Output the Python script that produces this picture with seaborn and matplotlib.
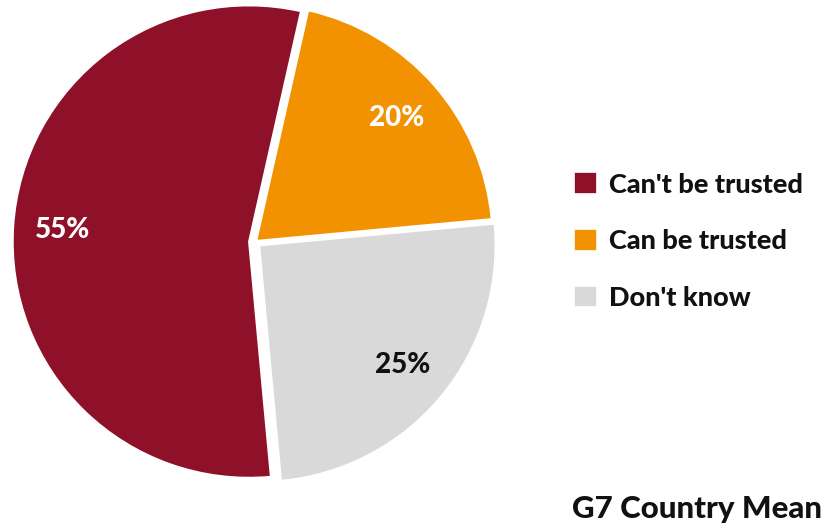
import matplotlib
matplotlib.use("Agg")
import matplotlib.pyplot as plt
import seaborn as sns

sns.set_theme(style="white")
plt.rcParams["font.family"] = ["Lato", "DejaVu Sans"]

categories = ["Can't be trusted", "Can be trusted", "Don't know"]
shares = [55, 20, 25]
colors = ["#8E1129", "#F39200", "#D9D9D9"]
label_colors = ["white", "white", "#111111"]
explode = [0.026, 0.008, 0.024]
title = "G7 Country Mean"

fig = plt.figure(figsize=(8.3, 5.3), dpi=100)
ax = fig.add_axes([0.0229, 0.0981, 0.5687, 0.8906])

wedges, _, autotexts = ax.pie(
    shares,
    colors=colors,
    explode=explode,
    startangle=275.3,
    counterclock=False,
    autopct=lambda p: f"{p:.0f}%",
    pctdistance=0.79,
    wedgeprops=dict(edgecolor="white", linewidth=1.2),
    textprops=dict(fontsize=20, fontweight="black"),
)
for t, c in zip(autotexts, label_colors):
    t.set_color(c)
ax.set_xlim(-1, 1)
ax.set_ylim(-1, 1)
ax.set_aspect("equal")
ax.axis("off")

leg = fig.legend(
    wedges, categories,
    loc="center left", bbox_to_anchor=(0.662, 0.545),
    frameon=False,
    handlelength=0.85, handleheight=0.85, handletextpad=0.45,
    labelspacing=1.2,
    prop=dict(size=19.5, weight="black"),
)
for txt in leg.get_texts():
    txt.set_color("#111111")

fig.text(0.99, 0.04, title, ha="right", va="center",
         fontsize=22.5, fontweight="black", color="#111111")

fig.savefig("out.png", dpi=100)
